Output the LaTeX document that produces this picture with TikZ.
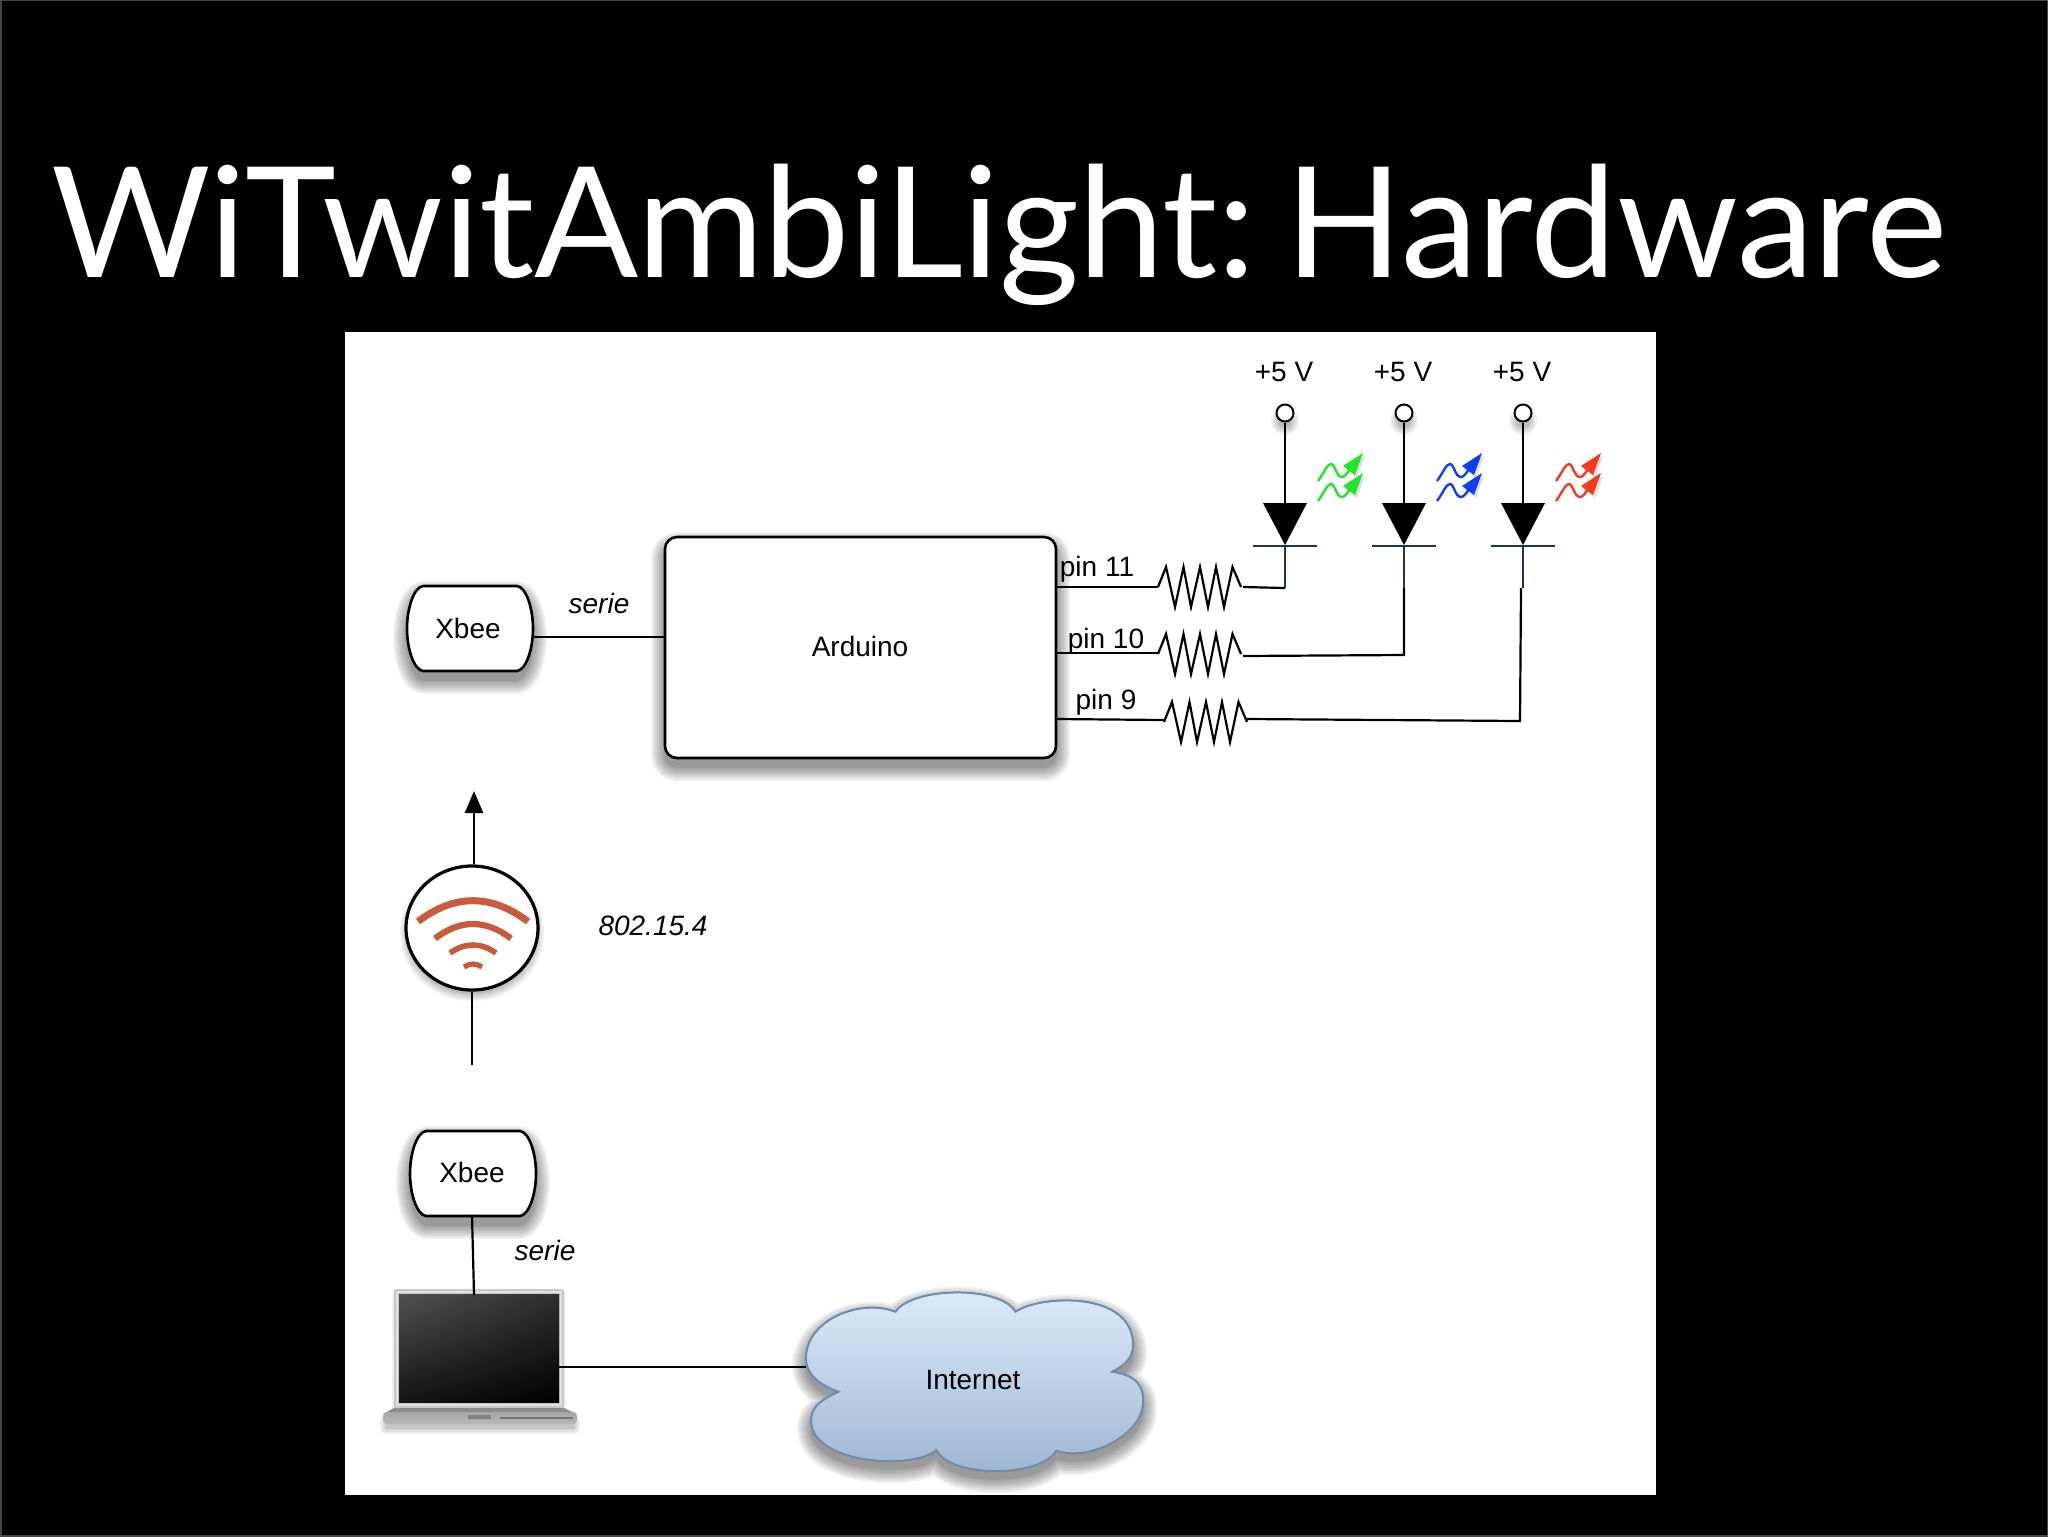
\documentclass[tikz,border=0pt]{standalone}
\usepackage{fontspec}
\setmainfont{Liberation Sans}
\newfontfamily\titlefont{Lato}
\newfontfamily\titletight[LetterSpace=-0.4]{Lato}
\usetikzlibrary{arrows.meta,shadings,shapes.geometric}
\definecolor{wifi}{HTML}{CB5A3C}
\definecolor{navyw}{HTML}{1F3358}
\definecolor{ledg}{HTML}{1FE52B}
\definecolor{ledb}{HTML}{0F3FF0}
\definecolor{ledr}{HTML}{F5391A}
\definecolor{cloudtop}{HTML}{DDECFB}
\definecolor{cloudbot}{HTML}{9DB5D0}
\definecolor{cloudline}{HTML}{6D8CAD}
\tikzset{
  x=0.5pt,y=-0.5pt,
  lbl/.style={font=\fontsize{14}{16}\selectfont,inner sep=0pt,text=black},
  ilbl/.style={font=\fontsize{14}{16}\selectfont\itshape,inner sep=0pt,text=black},
  wire/.style={draw=black,line width=1.1pt},
  box/.style={draw=black,line width=1.3pt,fill=white,line join=round},
  holder/.style={inner sep=0pt,draw=none,lbl},
  terminal/.style={circle,draw=black,fill=white,line width=1pt,minimum size=8.5pt,inner sep=0pt},
  wifiband/.style={draw=wifi}
}
\newcommand\softshadow[3][14]{%
  \foreach \w in {0,2,...,#1} {
    \begin{scope}[transparency group,opacity=.06]
      \path (0,0) rectangle (2048,1536);
      \path[shift={(#2)},fill=black,draw=black,line join=round,line width=\w pt] #3;
    \end{scope}
  }}
\newcommand\xbeepath[4]{(#1+16,#2) -- (#3-16,#2) .. controls (#3-7,#2+1) and (#3,#2+22) .. (#3,{(#2+#4)/2}) .. controls (#3,#4-22) and (#3-7,#4-1) .. (#3-16,#4) -- (#1+16,#4) .. controls (#1+7,#4-1) and (#1,#4-22) .. (#1,{(#2+#4)/2}) .. controls (#1,#2+22) and (#1+7,#2+1) .. (#1+16,#2) -- cycle}
\newcommand\resistor[2]{% left x, centre y
  \draw[wire,line join=miter] (#1,#2) -- (#1+8,#2-20) -- (#1+17,#2+20) -- (#1+25.5,#2-20) -- (#1+33,#2+20) -- (#1+42,#2-20) -- (#1+50,#2+20) -- (#1+58,#2-20) -- (#1+66,#2+20) -- (#1+74.5,#2-20) -- (#1+83,#2);}
\newcommand\diode[3]{% name, x, led colour
  \softshadow[8]{0,8}{(#2,413) circle (6)}
  \node[terminal] (#1term) at (#2,413) {};
  \coordinate (#1top) at (#2,504);
  \coordinate (#1tip) at (#2,546);
  \coordinate (#1low) at (#2,588);
  \draw[wire] (#1term) -- (#1top);
  \fill[black] (#2-22,503) -- (#2+22,503) -- (#2,545) -- cycle;
  \draw[navyw,line width=1pt] (#2-32,546) -- (#2+32,546);
  \draw[navyw,line width=1pt] (#1tip) -- (#1low);
  \foreach \o in {0,20} {
    \begin{scope}[shift={(#2,504+\o)}]
      \path[shift={(2,3)},fill=black,fill opacity=.12] (78,-51) -- (58,-38) -- (70,-29) -- cycle;
      \draw[#3,line width=1.2pt] (33,-23) .. controls (39,-31) and (42,-40) .. (46,-40) .. controls (50,-40) and (51,-27) .. (57,-27) .. controls (60,-27) and (62,-31) .. (66,-36);
      \fill[#3] (78,-51) -- (58,-38) -- (70,-29) -- cycle;
    \end{scope}
  }
}
\newcommand\wifiarc[4]{% half width, end y, peak y, thickness
  \draw[wifiband,line width=#4pt] ({473-#1},#2) .. controls ({473-#1/3},{(4*#3-#2)/3}) and ({473+#1/3},{(4*#3-#2)/3}) .. ({473+#1},#2);}
\newcommand\cloudpath{(895.5,1311.7) .. controls (912,1287) and (1000,1285) .. (1015.4,1311.7) .. controls (1040,1295) and (1133,1290) .. (1133,1345) .. controls (1133,1358) and (1125,1365) .. (1112.3,1371.7) .. controls (1135,1375) and (1145,1385) .. (1143,1405) .. controls (1140,1435) and (1090,1462) .. (1056.2,1450.7) .. controls (1040,1478) and (950,1478) .. (936.3,1450) .. controls (915,1470) and (811,1465) .. (811,1420) .. controls (811,1405) and (825,1398) .. (838.4,1391.7) .. controls (820,1385) and (806,1375) .. (806,1358) .. controls (806,1320) and (860,1298) .. (895.5,1311.7) -- cycle}
\begin{document}
\begin{tikzpicture}
\useasboundingbox (0,0) rectangle (2048,1536);
\fill[black] (-10,-10) rectangle (2058,1546);
\draw[black!72,line width=1.5pt] (0,0) rectangle (2048,1536);
\node[anchor=base west,inner sep=0pt,text=white,font=\fontsize{77}{80}\selectfont] (title) at (51,277) {\titletight WiTwitAmbiLight:\hspace{-11pt} \titlefont Hardware};
\fill[white] (345,332) rectangle (1656,1495);

% --- Top Xbee
\softshadow{0,9}{\xbeepath{407}{586}{533}{671}}
\draw[box] \xbeepath{407}{586}{533}{671};
\node[holder,minimum width=63pt,minimum height=42.5pt] (xbeeA) at (468,628) {Xbee};
% --- Arduino
\softshadow{0,9}{[rounded corners=6pt] (665,537) rectangle (1056,758)}
\draw[box,rounded corners=6pt] (665,537) rectangle (1056,758);
\node[holder,minimum width=195.5pt,minimum height=110.5pt] (arduino) at (860,646) {Arduino};
\coordinate (xa) at (533,637);
\draw[wire] (xa) -- (xa -| arduino.west);
\node[ilbl] (serieA) at (599,603) {serie};

% --- pins
\coordinate (p11) at (1056,587);
\coordinate (p10) at (1056,653);
\coordinate (p9) at (1056,719);
\coordinate (r11a) at (1158,587);
\coordinate (r10a) at (1158,653);
\coordinate (r9a) at (1164,720);
\draw[wire] (p11) -- (r11a);
\draw[wire] (p10) -- (r10a);
\draw[wire] (p9) -- (r9a);
\resistor{1158}{587}
\resistor{1158}{654}
\resistor{1164}{722}
\node[lbl] (pin11) at (1097,569.5) {pin 11};
\node[lbl] (pin10) at (1106,641.5) {pin 10};
\node[lbl] (pin9) at (1106,702.5) {pin 9};

% --- diodes
\diode{a}{1285}{ledg}
\diode{b}{1404}{ledb}
\diode{c}{1523}{ledr}
\node[lbl] (v1) at (1284,372) {+5 V};
\node[lbl] (v2) at (1403,372) {+5 V};
\node[lbl] (v3) at (1522,372) {+5 V};
\coordinate (r11b) at (1243,587);
\coordinate (r10b) at (1243,656);
\coordinate (r9b) at (1247,719);
\coordinate (c9) at (1520,721);
\coordinate (c9u) at (1521,588);
\draw[wire] (r11b) -- (alow);
\draw[wire,line join=miter] (r10b) -- (1404,655) -- (blow);
\draw[wire,line join=miter] (r9b) -- (c9) -- (c9u);

% --- radio link
\softshadow[8]{0,5}{(472,928) ellipse (64 and 60)}
\node[ellipse,draw=black,fill=white,line width=1.6pt,minimum width=66pt,minimum height=62pt,inner sep=0pt] (radio) at (472,928) {};
\coordinate (upTip) at (474,791);
\coordinate (downEnd) at (472,1065);
\draw[wire,-{Triangle[length=11pt,width=9pt]}] (radio.north -| upTip) -- (upTip);
\draw[wire] (radio.south) -- (downEnd);
\wifiarc{55}{921.5}{900.7}{3.5}
\wifiarc{38}{938.5}{924}{3.1}
\wifiarc{23}{953}{945}{2.8}
\wifiarc{9}{967}{964}{2.6}
\node[ilbl] (proto) at (653,926) {802.15.4};

% --- lower Xbee
\softshadow{0,9}{\xbeepath{410}{1131}{536}{1216}}
\draw[box] \xbeepath{410}{1131}{536}{1216};
\node[holder,minimum width=63pt,minimum height=42.5pt] (xbeeB) at (472,1172) {Xbee};
\node[ilbl] (serieB) at (545,1250.5) {serie};

% --- laptop
\softshadow[6]{0,4}{(386,1418) rectangle (574,1424)}
\softshadow[4]{0,3}{(396,1292) rectangle (562,1408)}
\fill[black!22,rounded corners=1pt] (394,1289) rectangle (564,1408);
\draw[black!12,line width=1pt] (397,1292) rectangle (561,1405);
\node[rectangle,inner sep=0pt,minimum width=80pt,minimum height=54pt,upper left=black!68,upper right=black!82,lower left=black!92,lower right=black] (laptop) at (479,1348) {};
\fill[black!45] (394,1408) -- (564,1408) -- (577,1414) -- (383,1414) -- cycle;
\shade[top color=black!35,bottom color=black!28,rounded corners=2pt] (383,1412) -- (577,1412) -- (577,1424) -- (383,1424) -- cycle;
\fill[black!50] (468,1415) rectangle (491,1419);
\draw[black!55,line width=.6pt] (500,1418) -- (573,1418);
\coordinate (lapTop) at (474,1295);
\draw[wire] (xbeeB.south) -- (lapTop);

% --- cloud
\softshadow{0,8}{\cloudpath}
\draw[cloudline,line width=1pt,top color=cloudtop,bottom color=cloudbot] \cloudpath;
\node[holder,minimum width=168.5pt,minimum height=89pt] (cloud) at (973,1380) {Internet};
\coordinate (lapPort) at (559,1367);
\draw[wire] (lapPort) -- (806,1367);
\end{tikzpicture}
\end{document}
